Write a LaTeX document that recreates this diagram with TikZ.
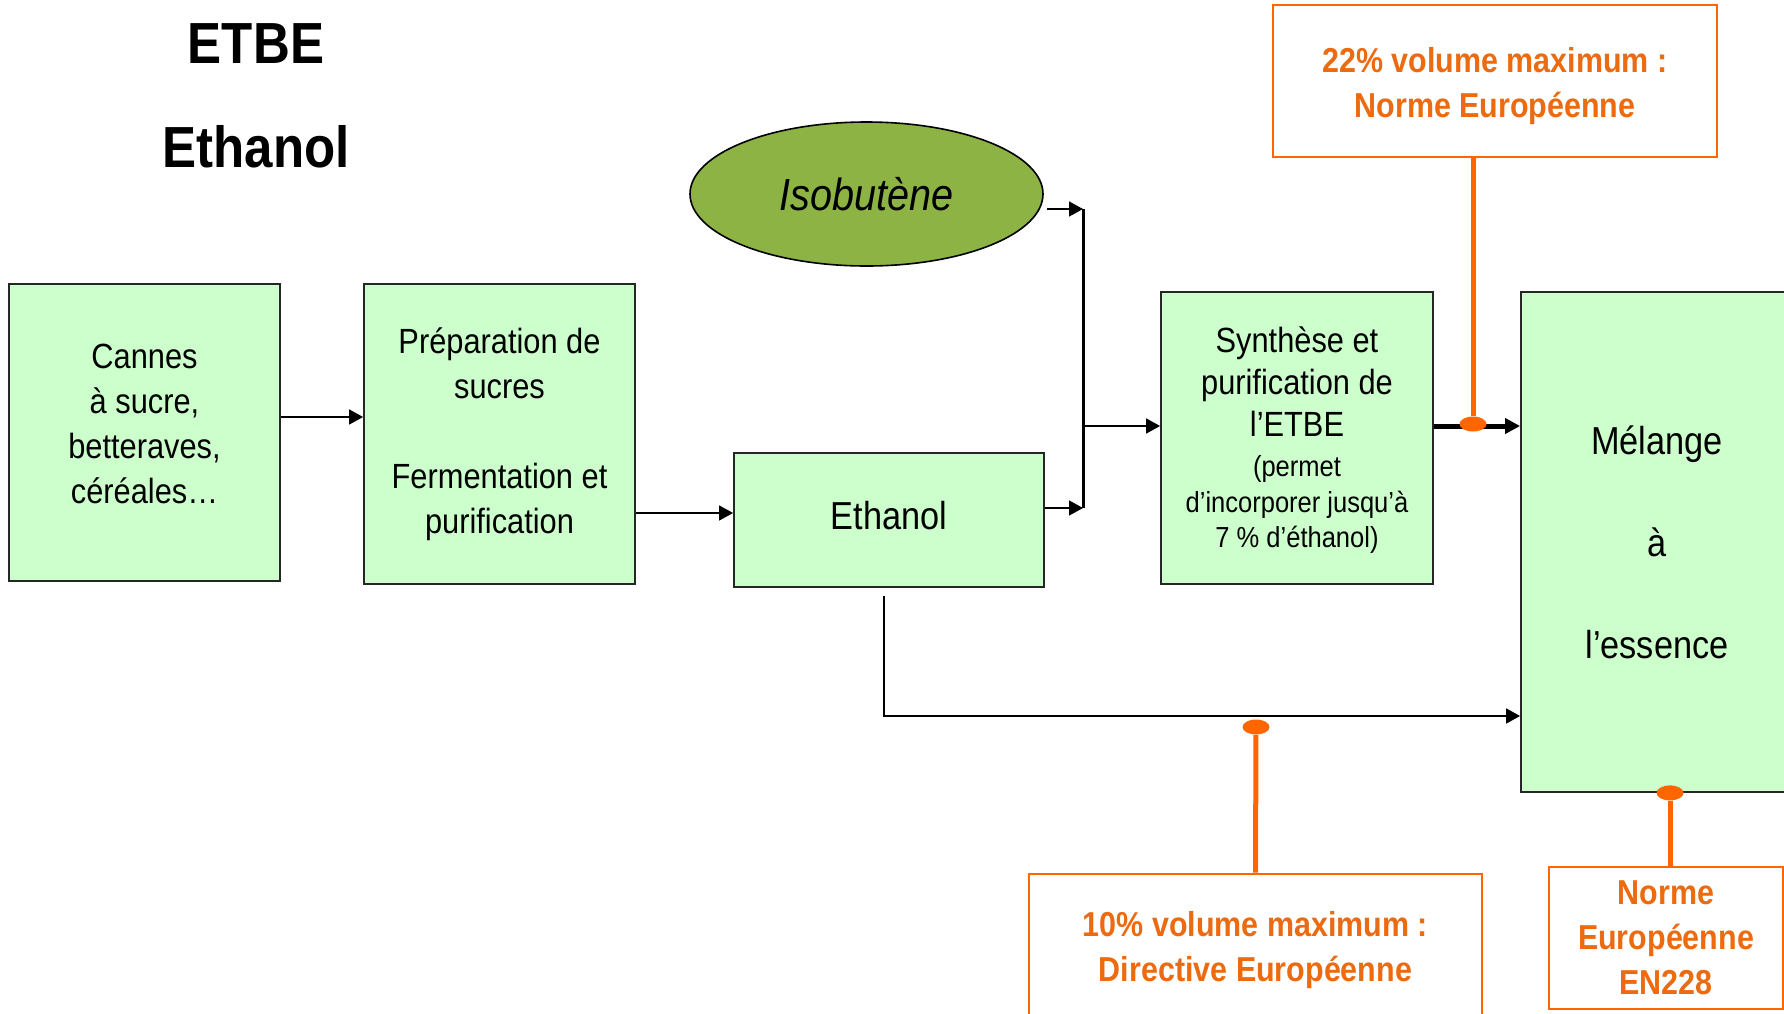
\documentclass[tikz,border=0pt]{standalone}
\usepackage{fontspec}
\setmainfont{Liberation Sans}[FakeStretch=0.88]
\usepackage{tikz}
\usetikzlibrary{arrows.meta, positioning, shapes.geometric, calc}
\definecolor{boxgreen}{RGB}{204,255,204}
\definecolor{isogreen}{RGB}{141,179,69}
\definecolor{normorange}{RGB}{255,102,0}
\definecolor{normtext}{RGB}{236,106,16}

\begin{document}
\begin{tikzpicture}[x=0.5pt, y=-0.5pt,
  procbox/.style={draw=black!85, line width=0.9pt, fill=boxgreen, align=center, inner sep=0pt,
                  font=\fontsize{17.5}{22.5}\selectfont},
  normbox/.style={draw=normorange, line width=1.3pt, fill=white, align=center, inner sep=0pt,
                  text=normtext, font=\bfseries\fontsize{17.3}{22.5}\selectfont},
  normdot/.style={ellipse, fill=normorange, minimum width=13.5pt, minimum height=7.5pt, inner sep=0pt},
  flow/.style={-{Triangle[length=7pt,width=7.5pt]}, line width=0.75pt},
  normline/.style={normorange, line width=2.5pt}]

\path[use as bounding box, clip] (0,0) rectangle (1784,1013);

% Titles
\node[anchor=base, font=\bfseries\fontsize{29}{34}\selectfont] (ttl1) at (256,63) {ETBE};
\node[anchor=base, font=\bfseries\fontsize{29}{34}\selectfont] (ttl2) at (256,167) {Ethanol};

% Process chain
\node[procbox, minimum width=135.5pt, minimum height=148.5pt] (cannes) at (144.5,432.5)
  {Cannes\\à sucre,\\betteraves,\\céréales…\rule[-9pt]{0pt}{9pt}};
\node[procbox, minimum width=135.5pt, minimum height=150pt] (prep) at (499.5,434)
  {Préparation de\\sucres\\[22.5pt]Fermentation et\\purification};
\node[procbox, minimum width=155pt, minimum height=67pt, text depth=4.5pt,
      font=\fontsize{19.5}{24}\selectfont] (ethanol) at (889,520) {Ethanol};
\node[ellipse, draw=black, line width=0.8pt, fill=isogreen, minimum width=176.5pt, minimum height=72pt,
      font=\itshape\fontsize{22.5}{27}\selectfont] (iso) at (866.5,194) {Isobutène};
\node[procbox, minimum width=136pt, minimum height=146pt, font=\fontsize{17.5}{21}\selectfont] (synth) at (1297,438)
  {\rule{0pt}{17.5pt}Synthèse et\\purification de\\l’ETBE\\[-1pt]{\fontsize{14.5}{17.75}\selectfont
   \begin{tabular}[t]{@{}c@{}}(permet\\d’incorporer jusqu’à\\7 \% d’éthanol)\end{tabular}}};
\node[procbox, minimum width=136pt, minimum height=250pt, font=\fontsize{19.5}{51}\selectfont] (melange) at (1657,542)
  {Mélange\\à\\l’essence};

% Standards
\node[normbox, minimum width=222pt, minimum height=76pt] (norm22) at (1495,81)
  {\rule{0pt}{18pt}22\% volume maximum :\\Norme Européenne};
\node[normbox, minimum width=226.5pt, minimum height=76pt] (norm10) at (1255.5,950)
  {10\% volume maximum :\\Directive Européenne};
\node[normbox, minimum width=117pt, minimum height=71pt] (en228) at (1666,938)
  {Norme\\Européenne\\EN228};

% Junction
\coordinate (jtop) at (1083,209);
\coordinate (jmid) at (1083,426);
\coordinate (jbot) at (1083,508);
\coordinate (pin) at ([yshift=8.5pt]prep.west);
\coordinate (ein) at ([yshift=3.5pt]ethanol.west);
\coordinate (ebend) at (884,716);

% Arrows
\draw[flow] (cannes.east |- pin) -- (pin);
\draw[flow] (prep.east |- ein) -- (ein);
\draw[flow] ([xshift=1.5pt]iso.east |- jtop) -- (jtop);
\draw[flow] (ethanol.east |- jbot) -- (jbot);
\draw[line width=1.5pt] (jtop) -- (jbot);
\draw[flow] (jmid) -- (synth.west |- jmid);
\draw[-{Triangle[length=7.5pt,width=7.5pt]}, line width=2.5pt] (synth.east |- jmid) -- (melange.west |- jmid);
\draw[flow] ([xshift=-2.5pt,yshift=-4pt]ethanol.south) |- (melange.west |- ebend);

% Links to standards
\node[normdot] (dot22) at (1473,424) {};
\draw[normline] (norm22.south -| dot22) -- (dot22);
\node[normdot] (dot10) at (1256,727) {};
\draw[normline] (dot10) -- (norm10.north);
\node[normdot] (dot228) at ([xshift=6.5pt]melange.south) {};
\draw[normline] (dot228) -- (en228.north -| dot228);

\end{tikzpicture}
\end{document}
